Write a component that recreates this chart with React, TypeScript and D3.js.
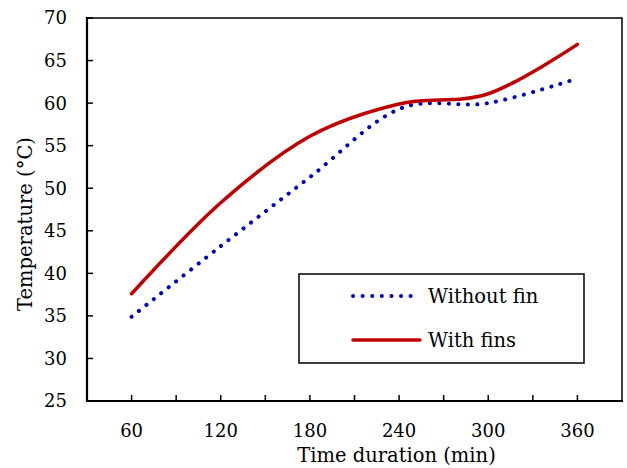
import React from "react";
import * as d3 from "d3";

const times = [60, 120, 180, 240, 300, 360];
const withoutFin = [34.9, 43.2, 51.3, 59.3, 60.0, 62.9];
const withFins = [37.6, 48.3, 56.1, 59.9, 61.1, 66.9];
const xTicks = [60, 90, 120, 150, 180, 210, 240, 270, 300, 330, 360];
const xLabels = [60, 120, 180, 240, 300, 360];
const yTicks = [25, 30, 35, 40, 45, 50, 55, 60, 65, 70];

const W = 627;
const H = 468;
const FONT = "'DejaVu Serif', serif";

export default function App() {
  const x = d3.scaleLinear().domain([30, 390]).range([87, 622]);
  const y = d3.scaleLinear().domain([25, 70]).range([401, 18]);
  const line = d3
    .line<number>()
    .x((_, i) => x(times[i]))
    .y((d) => y(d))
    .curve(d3.curveCardinal.tension(0));

  return (
    <svg
      width={W}
      height={H}
      style={{ position: "absolute", left: 0, top: 0, background: "#fff" }}
      fontFamily={FONT}
    >
      <rect x={0} y={0} width={W} height={H} fill="#fff" />
      {/* plot border */}
      <rect x={87} y={18} width={622 - 87} height={401 - 18} fill="none" stroke="#000" strokeWidth={1.5} />
      <line x1={87} x2={87} y1={17} y2={402} stroke="#000" strokeWidth={2.2} />
      <line x1={86} x2={623} y1={401} y2={401} stroke="#000" strokeWidth={2.2} />
      {/* x ticks */}
      {xTicks.map((t) => (
        <line key={"xt" + t} x1={x(t)} x2={x(t)} y1={401} y2={395} stroke="#000" strokeWidth={1.5} />
      ))}
      {xLabels.map((t) => (
        <text key={"xl" + t} x={x(t)} y={437} textAnchor="middle" fontSize={18} fill="#000">
          {t}
        </text>
      ))}
      {/* y ticks */}
      {yTicks.map((v) => (
        <g key={"yt" + v}>
          <line x1={87} x2={93} y1={y(v)} y2={y(v)} stroke="#000" strokeWidth={1.5} />
          <text x={67} y={y(v)} dy="0.36em" textAnchor="end" fontSize={18} fill="#000">
            {v}
          </text>
        </g>
      ))}
      {/* axis titles */}
      <text x={396.5} y={462} textAnchor="middle" fontSize={19.5} fill="#000">
        Time duration (min)
      </text>
      <text
        transform={`translate(32,224) rotate(-90)`}
        textAnchor="middle"
        fontSize={19.5}
        fill="#000"
      >
        Temperature (°C)
      </text>
      {/* series */}
      <path
        d={line(withoutFin) || ""}
        fill="none"
        stroke="#0000c0"
        strokeWidth={4}
        strokeLinecap="round"
        strokeDasharray="0.1 9.4"
      />
      <path d={line(withFins) || ""} fill="none" stroke="#c00000" strokeWidth={3.5} strokeLinecap="round" />
      {/* legend */}
      <rect x={299} y={274} width={285} height={89} fill="#fff" stroke="#000" strokeWidth={1.5} />
      <line x1={353} x2={420} y1={296} y2={296} stroke="#0000c0" strokeWidth={4} strokeLinecap="round" strokeDasharray="0.1 9.5" />
      <text x={428} y={303} fontSize={19.5} fill="#000">
        Without fin
      </text>
      <line x1={353} x2={420} y1={340} y2={340} stroke="#c00000" strokeWidth={3.5} strokeLinecap="round" />
      <text x={428} y={347} fontSize={19.5} fill="#000">
        With fins
      </text>
    </svg>
  );
}
